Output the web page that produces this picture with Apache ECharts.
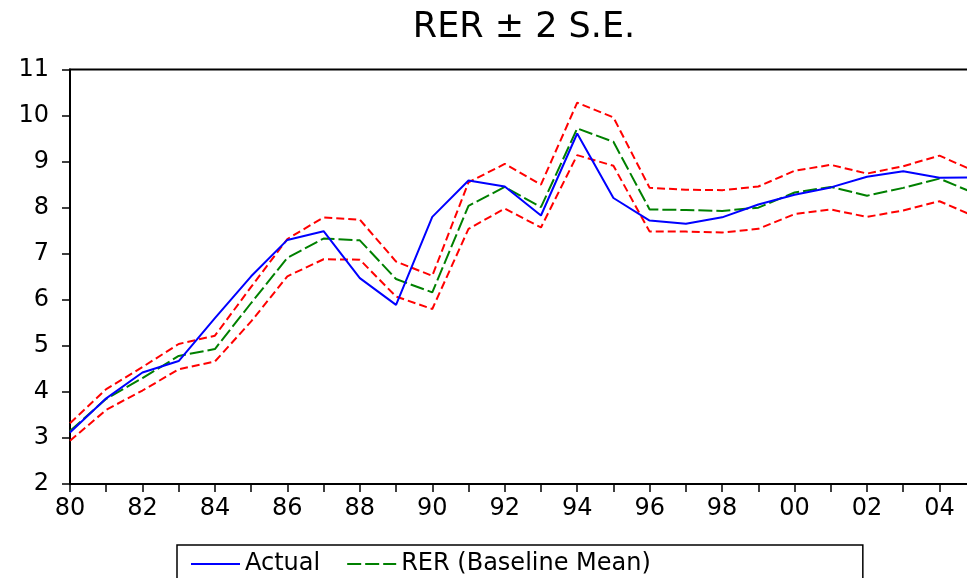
<!DOCTYPE html>
<html>
<head>
<meta charset="utf-8">
<script src="https://cdn.jsdelivr.net/npm/echarts@6/dist/echarts.min.js"></script>
<style>
  html, body { margin: 0; padding: 0; background: #fff; }
  #chart { width: 967px; height: 578px; }
</style>
</head>
<body>
<div id="chart"></div>
<script>
// Years 1980-2005 as shown on the axis
const years = ['80','81','82','83','84','85','86','87','88','89','90','91','92','93','94','95','96','97','98','99','00','01','02','03','04','05'];

const actual = [3.12, 3.86, 4.42, 4.67, 5.60, 6.51, 7.30, 7.49, 6.47, 5.89, 7.80, 8.59, 8.46, 7.83, 9.61, 8.21, 7.72, 7.65, 7.79, 8.07, 8.28, 8.44, 8.67, 8.79, 8.65, 8.66];
const baselineMean = [3.15, 3.85, 4.30, 4.78, 4.93, 5.93, 6.91, 7.33, 7.29, 6.45, 6.16, 8.04, 8.45, 8.01, 9.72, 9.43, 7.96, 7.95, 7.93, 8.00, 8.33, 8.45, 8.26, 8.43, 8.63, 8.30];
const upperBand = [3.32, 4.06, 4.54, 5.04, 5.22, 6.28, 7.32, 7.79, 7.74, 6.83, 6.52, 8.55, 8.95, 8.50, 10.28, 9.96, 8.43, 8.39, 8.38, 8.46, 8.80, 8.93, 8.74, 8.90, 9.13, 8.78];
const lowerBand = [2.94, 3.61, 4.03, 4.49, 4.66, 5.53, 6.51, 6.88, 6.87, 6.07, 5.80, 7.54, 7.98, 7.57, 9.14, 8.91, 7.48, 7.48, 7.46, 7.54, 7.86, 7.96, 7.80, 7.94, 8.14, 7.80];

const yMin = 2, yMax = 11, yStep = 1;

const chart = echarts.init(document.getElementById('chart'));
const font = 'DejaVu Sans';

chart.setOption({
  animation: false,
  backgroundColor: '#ffffff',
  title: {
    text: 'RER ± 2 S.E.',
    left: 524,
    top: 10,
    padding: 0,
    textAlign: 'center',
    textStyle: { fontFamily: font, fontSize: 35, fontWeight: 'normal', color: '#000' }
  },
  legend: {
    data: ['Actual', 'RER (Baseline Mean)', '± 2 S.E.'],
    left: 177,
    top: 545,
    width: 560,
    orient: 'horizontal',
    padding: [7, 212, 8, 13],
    itemGap: 26,
    itemWidth: 49,
    itemHeight: 14,
    itemTextGap: 11,
    borderColor: '#000',
    borderWidth: 1.5,
    itemStyle: { opacity: 0 },
    textStyle: { fontFamily: font, fontSize: 24, color: '#000' }
  },
  grid: {
    left: 70,
    top: 69.5,
    right: -8.7,
    bottom: 94,
    containLabel: false,
    outerBoundsMode: 'none',
    show: true,
    borderColor: '#000',
    borderWidth: 2,
    backgroundColor: 'transparent'
  },
  xAxis: {
    type: 'category',
    data: years,
    boundaryGap: false,
    axisLine: { show: true, lineStyle: { color: '#000', width: 2 } },
    axisTick: { show: true, interval: 0, length: 8, inside: false, lineStyle: { color: '#000', width: 1.5 } },
    axisLabel: { interval: 1, margin: 13, color: '#000', fontFamily: font, fontSize: 24 },
    splitLine: { show: false }
  },
  yAxis: {
    type: 'value',
    min: yMin,
    max: yMax,
    interval: yStep,
    axisLine: { show: true, lineStyle: { color: '#000', width: 2 } },
    axisTick: { show: true, length: 8, inside: false, lineStyle: { color: '#000', width: 1.5 } },
    axisLabel: { margin: 21, color: '#000', fontFamily: font, fontSize: 24 },
    splitLine: { show: false }
  },
  series: [
    {
      name: '± 2 S.E.', type: 'line', data: upperBand, symbol: 'none', z: 2,
      lineStyle: { color: '#ff0000', width: 2, type: [8, 4] }, itemStyle: { color: '#ff0000' }
    },
    {
      name: '± 2 S.E.', type: 'line', data: lowerBand, symbol: 'none', z: 2,
      lineStyle: { color: '#ff0000', width: 2, type: [8, 4] }, itemStyle: { color: '#ff0000' }
    },
    {
      name: 'RER (Baseline Mean)', type: 'line', data: baselineMean, symbol: 'none', z: 3,
      lineStyle: { color: '#008000', width: 2, type: [14, 4] }, itemStyle: { color: '#008000' }
    },
    {
      name: 'Actual', type: 'line', data: actual, symbol: 'none', z: 4,
      lineStyle: { color: '#0000ff', width: 2, type: 'solid' }, itemStyle: { color: '#0000ff' }
    }
  ]
});
</script>
</body>
</html>
